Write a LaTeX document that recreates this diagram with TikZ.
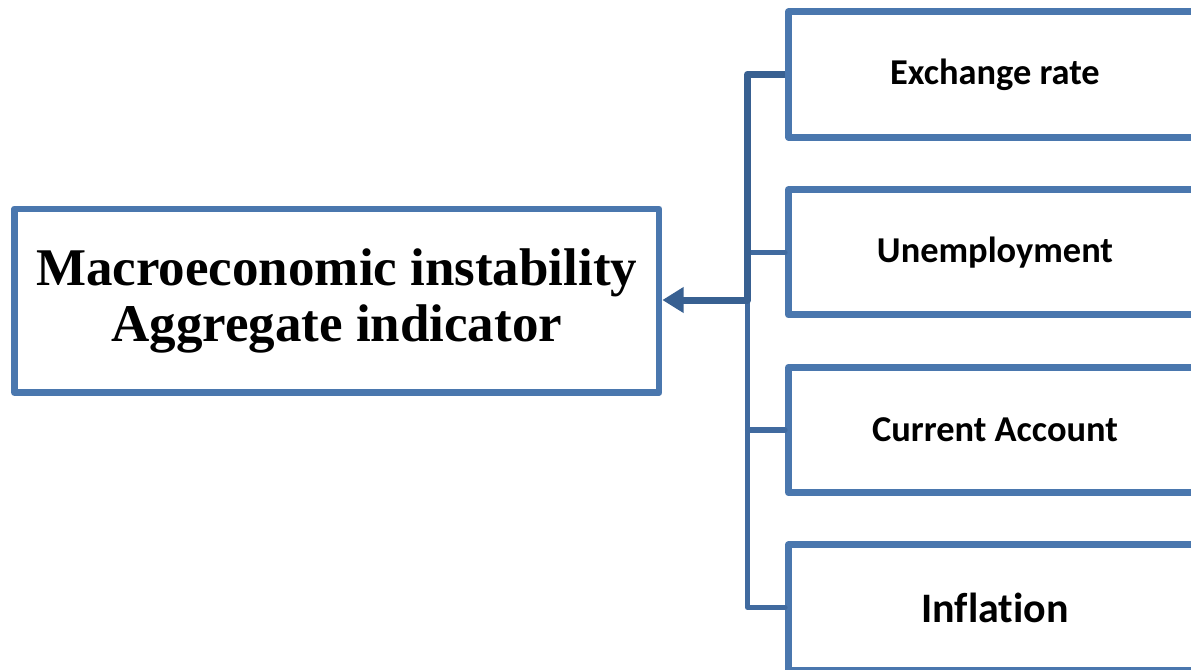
\documentclass[tikz,border=0pt]{standalone}
\usepackage{fontspec}
\setmainfont{Liberation Serif}
\newfontfamily\carlitofont[Ligatures=CommonOff]{Carlito}
\usetikzlibrary{arrows.meta}
\definecolor{boxcol}{RGB}{74,119,174}
\definecolor{darkcol}{RGB}{56,96,145}
\definecolor{midcol}{RGB}{64,106,159}
\tikzset{
  factorbox/.style={draw=boxcol, line width=5.25pt, line join=round, fill=white,
    minimum width=309.75pt, minimum height=94pt, inner sep=0pt,
    font=\carlitofont\bfseries\fontsize{27.3}{30}\selectfont},
  mainbox/.style={draw=boxcol, line width=5pt, line join=round, fill=white,
    minimum width=483.4pt, minimum height=137.8pt, inner sep=0pt, align=center,
    font=\bfseries\fontsize{39.75}{41.25}\selectfont},
  darkline/.style={draw=darkcol, line width=5.25pt, line join=round},
  thinline/.style={draw=midcol, line width=3.9pt, line join=round, line cap=round},
}
\begin{document}
\begin{tikzpicture}[x=0.75pt,y=-0.75pt]
\useasboundingbox (0,0) rectangle (1191,669);
\clip (0,0) rectangle (1191,669);
\node[mainbox] (main) at (336.75,300.85) {Macroeconomic instability\\[1pt]Aggregate indicator};
\node[factorbox] (b1) at (995,74.4) {Exchange rate};
\node[factorbox] (b2) at (995,252.3) {Unemployment};
\node[factorbox] (b3) at (995,430) {Current Account};
\node[factorbox, font=\carlitofont\bfseries\fontsize{31.5}{34}\selectfont] (b4) at (995,607.5) {Inflation};
\coordinate (j) at (747.5,300);
\draw[thinline] (b4.west) -| (j);
\draw[thinline] (b2.west) -- (b2.west -| j);
\draw[thinline] (b3.west) -- (b3.west -| j);
\draw[darkline, -{Triangle[length=16pt,width=18.5pt]}] (b1.west) -| (j) -- (j -| main.east);
\end{tikzpicture}
\end{document}
